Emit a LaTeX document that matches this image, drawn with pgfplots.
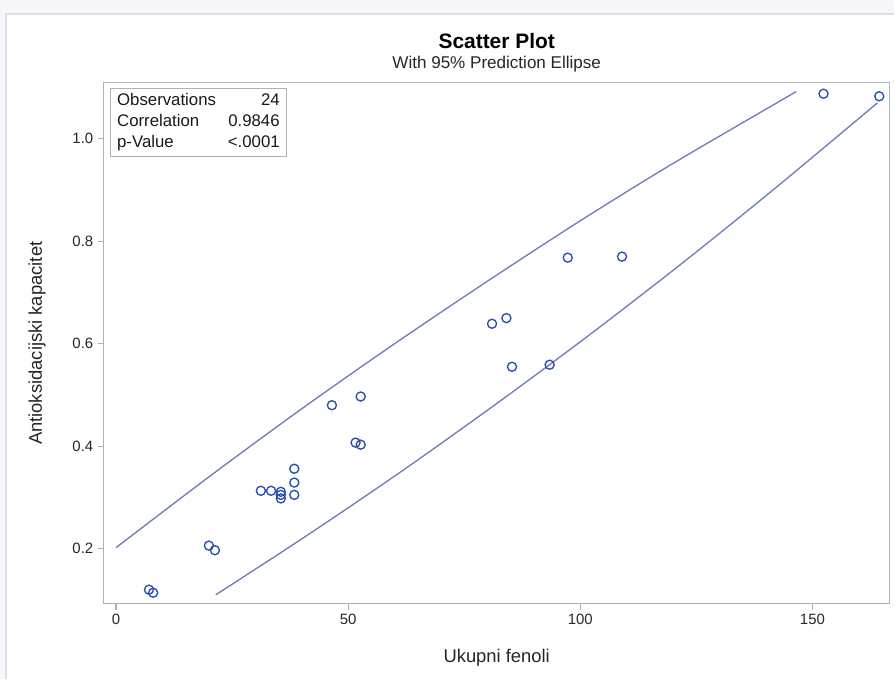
\documentclass[border=0pt]{standalone}
\usepackage{fontspec}
\setmainfont{Liberation Sans}
\usepackage{pgfplots}
\pgfplotsset{compat=1.18}
\definecolor{mk}{HTML}{2A4CB2}
\definecolor{el}{HTML}{6F7EB4}
\definecolor{fr}{HTML}{ADB1B8}
\definecolor{bg}{HTML}{F6F7FB}
\definecolor{bd}{HTML}{DCDEE4}
\begin{document}
\begin{tikzpicture}
\fill[bg] (-78pt,-56.25pt) rectangle (593.25pt,453pt);
\fill[white] (-73.5pt,-56.25pt) rectangle (593.25pt,442.5pt);
\draw[bd, line width=0.8pt] (-73.5pt,-56.25pt) -- (-73.5pt,442.5pt) -- (593.25pt,442.5pt);
\begin{axis}[
  at={(0pt,0pt)}, anchor=south west,
  scale only axis, width=589.5pt, height=390.75pt,
  xmin=-2.6, xmax=166.6, ymin=0.0927, ymax=1.109,
  axis line style={fr, line width=0.8pt},
  xtick={0,50,100,150}, ytick={0.2,0.4,0.6,0.8,1.0},
  tick align=outside, tick pos=left, major tick length=4.5pt,
  tick style={fr, line width=0.8pt},
  minor tick num=0,
  /pgf/number format/assume math mode=true,
  yticklabel style={/pgf/number format/.cd, fixed, fixed zerofill, precision=1},
  xticklabel style={/pgf/number format/.cd, fixed, precision=0},
  ticklabel style={font=\fontsize{11.2}{13}\selectfont, text=black!85},
  xlabel={Ukupni fenoli}, ylabel={Antioksidacijski kapacitet},
  label style={font=\fontsize{13.8}{16}\selectfont, text=black!85},
  x label style={at={(axis description cs:0.5,-0.1036)}, anchor=center},
  y label style={at={(axis description cs:-0.0852,0.5)}, anchor=center},
  clip=true,
]
% 95% prediction ellipse (visible arcs)
\addplot[el, line width=1pt, smooth] coordinates {
 (0,0.202) (20,0.340) (40,0.473) (60,0.600) (80,0.722)
 (100,0.840) (120,0.952) (146.5,1.092)};
\addplot[el, line width=1pt, smooth] coordinates {
 (21.5,0.110) (41.5,0.228) (61.5,0.351) (81.5,0.480) (101.5,0.614)
 (121.5,0.754) (141.5,0.900) (164.0,1.070)};
% observations
\addplot[only marks, mark=o, mark size=3.4pt, mk, mark options={line width=1pt}] coordinates {
 (7.1,0.120) (8.0,0.114) (20.0,0.206) (21.3,0.197)
 (31.2,0.313) (33.4,0.313) (35.5,0.311) (35.5,0.305) (35.5,0.298)
 (38.4,0.356) (38.4,0.329) (38.4,0.305)
 (46.5,0.480) (52.7,0.497) (51.6,0.407) (52.7,0.403)
 (81.0,0.639) (84.1,0.650) (85.3,0.555) (93.4,0.559)
 (97.3,0.768) (109.0,0.770) (152.4,1.088) (164.4,1.083)};
\node[draw=fr, line width=0.8pt, fill=white, anchor=north west, inner xsep=5pt, inner ysep=4pt,
  text width=122pt, align=left, font=\fontsize{12.6}{15.75}\selectfont, text=black!90]
  at (rel axis cs:0,1) [xshift=4.5pt, yshift=-3.75pt]
  {Observations\hfill 24\\ Correlation\hfill 0.9846\\ p-Value\hfill <.0001};
\end{axis}
\node[font=\fontsize{15.7}{18}\selectfont\bfseries] at (294.75pt,422.25pt) {Scatter Plot};
\node[font=\fontsize{12.8}{15}\selectfont, text=black!85] at (294.75pt,405pt) {With 95\% Prediction Ellipse};
\end{tikzpicture}
\end{document}
